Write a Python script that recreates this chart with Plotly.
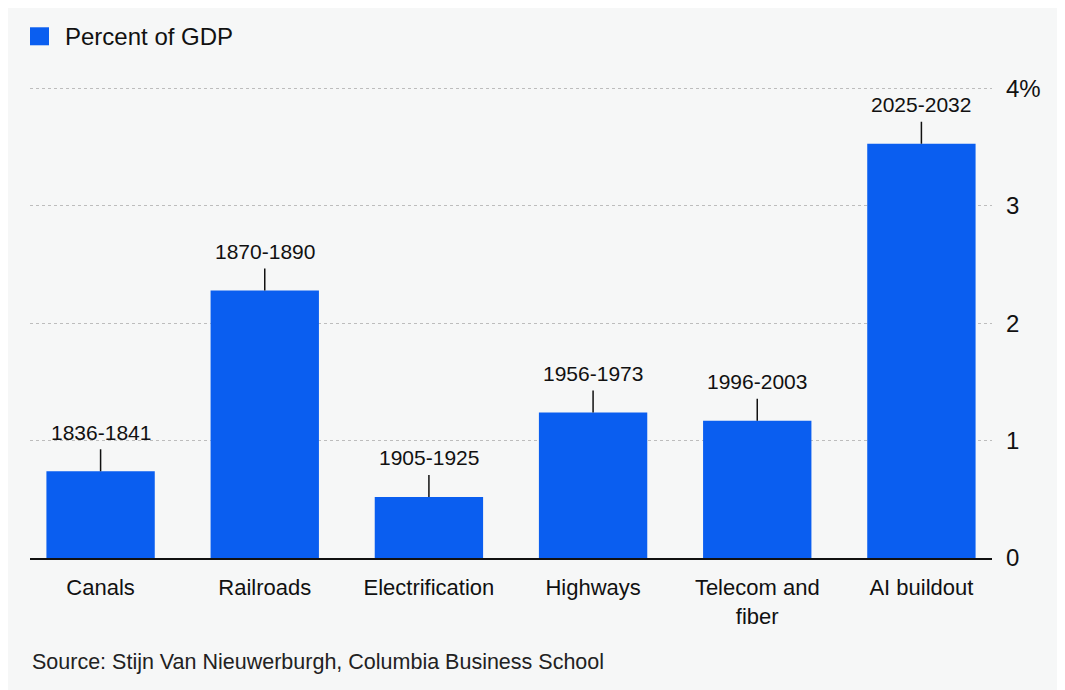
import plotly.graph_objects as go

# data
categories = ["Canals", "Railroads", "Electrification", "Highways", "Telecom and<br>fiber", "AI buildout"]
periods = ["1836-1841", "1870-1890", "1905-1925", "1956-1973", "1996-2003", "2025-2032"]
pct_gdp = [0.74, 2.28, 0.52, 1.24, 1.17, 3.53]
tick_vals = [0, 1, 2, 3, 4]
tick_text = ["0", "1", "2", "3", "4%"]

BLUE = "#0a5ef0"
BG = "#f6f7f7"
INK = "#111111"
FONT = "Liberation Sans, Arial, sans-serif"

fig = go.Figure()
fig.add_trace(go.Bar(
    x=categories,
    y=pct_gdp,
    marker=dict(color=BLUE, line=dict(width=0)),
    name="Percent of GDP",
    showlegend=False,
))

# period labels with a small tick above each bar
for cat, per, val in zip(categories, periods, pct_gdp):
    fig.add_annotation(
        x=cat, y=val, xref="x", yref="y",
        text=per,
        showarrow=True, arrowhead=0, arrowwidth=1.5, arrowcolor=INK,
        ax=0, ay=-39, startstandoff=4,
        font=dict(family=FONT, size=21, color=INK),
    )

fig.update_xaxes(
    range=[-0.43, 5.43],
    showline=True, linecolor=INK, linewidth=2,
    showgrid=False, ticks="",
    ticklabelstandoff=9,
    tickfont=dict(family=FONT, size=22, color=INK),
)
# top padded a little so the 4% gridline is drawn
fig.update_yaxes(
    range=[0, 4.03],
    side="right",
    tickvals=tick_vals, ticktext=tick_text,
    showgrid=True, gridcolor="#bdbdbd", gridwidth=1, griddash="dot",
    zeroline=False, showline=False, ticks="",
    ticklabelstandoff=13,
    tickfont=dict(family=FONT, size=24, color=INK),
)

# legend drawn by hand to get the larger square
fig.add_shape(
    type="rect", xref="paper", yref="paper",
    xsizemode="pixel", ysizemode="pixel",
    xanchor=0, yanchor=1.103,
    x0=0, x1=19, y0=-9, y1=9,
    fillcolor=BLUE, line=dict(width=0),
)
fig.add_annotation(
    text="Percent of GDP", x=0.034, y=1.103, xref="paper", yref="paper",
    xanchor="left", yanchor="middle", showarrow=False,
    font=dict(family=FONT, size=24, color=INK),
)

fig.add_annotation(
    text="Source: Stijn Van Nieuwerburgh, Columbia Business School",
    x=0, y=-0.219, xref="paper", yref="paper",
    xanchor="left", yanchor="middle", showarrow=False,
    font=dict(family=FONT, size=21.5, color="#222222"),
)

fig.update_layout(
    width=1057,
    height=682,
    bargap=0.34,
    paper_bgcolor=BG,
    plot_bgcolor=BG,
    margin=dict(t=77, l=22, r=73, b=132),
    font=dict(family=FONT, color=INK),
)

fig.write_html("out.html")
